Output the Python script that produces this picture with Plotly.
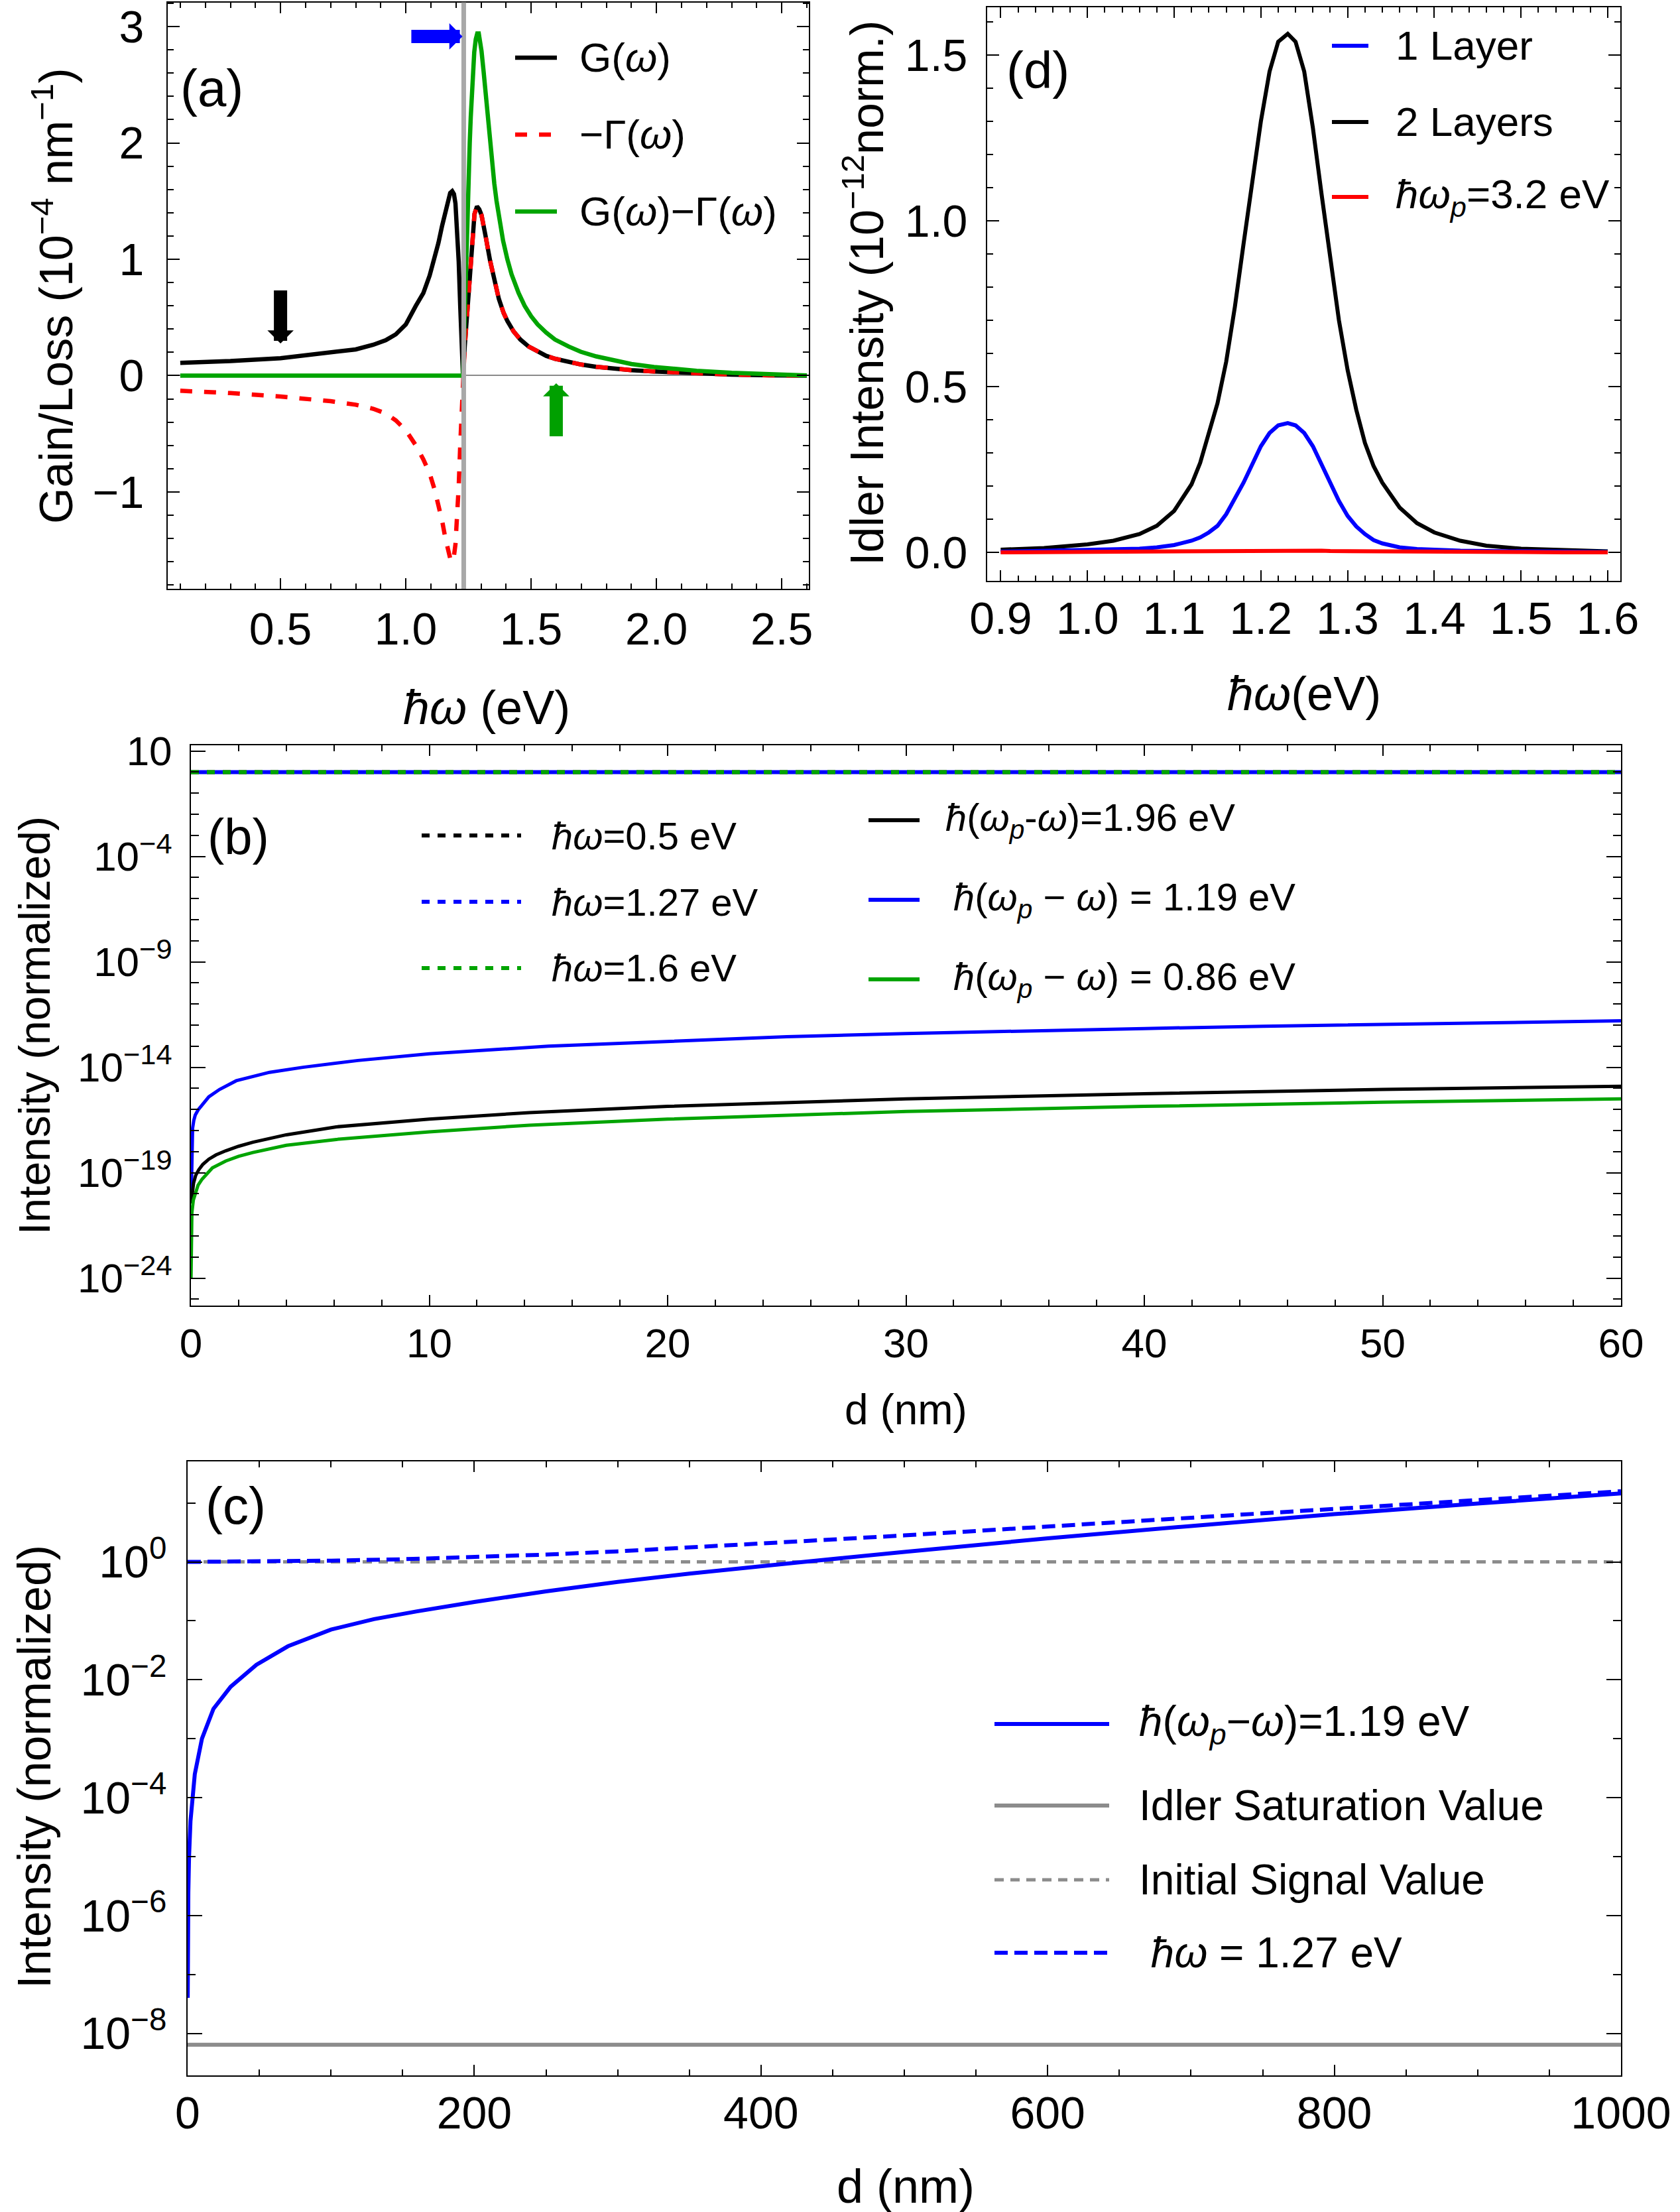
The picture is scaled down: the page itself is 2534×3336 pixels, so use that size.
import plotly.graph_objects as go

W, H = 2534, 3336
FONT = "Liberation Sans, Arial, sans-serif"

# ---------------- panel (a): gain / loss ----------------
a_G_x = [0.10, 0.30, 0.50, 0.70, 0.80, 0.87, 0.92, 0.96, 1.00, 1.04, 1.07, 1.095, 1.115, 1.13,
         1.145, 1.158, 1.168, 1.177, 1.185, 1.192, 1.198, 1.204, 1.211, 1.217, 1.222, 1.228,
         1.235, 1.243, 1.25, 1.257, 1.263, 1.268, 1.274, 1.284, 1.293, 1.302, 1.311, 1.319,
         1.336, 1.353, 1.371, 1.39, 1.405, 1.43, 1.457, 1.49, 1.526, 1.56, 1.595, 1.65, 1.70,
         1.76, 1.82, 1.90, 1.99, 2.08, 2.16, 2.30, 2.45, 2.60]
a_G_y = [0.110, 0.125, 0.150, 0.195, 0.225, 0.265, 0.305, 0.355, 0.44, 0.60, 0.71, 0.86, 1.01, 1.14,
         1.29, 1.42, 1.52, 1.57, 1.585, 1.56, 1.48, 1.30, 0.98, 0.60, 0.30, 0.0,
         0.25, 0.48, 0.68, 0.92, 1.14, 1.28, 1.39, 1.454, 1.43, 1.38, 1.29, 1.19,
         0.99, 0.81, 0.66, 0.54, 0.47, 0.38, 0.31, 0.25, 0.205, 0.17, 0.145, 0.115, 0.095,
         0.076, 0.062, 0.047, 0.036, 0.026, 0.018, 0.009, 0.003, 0.0]
a_mGamma_x = a_G_x
a_mGamma_y = [-0.130, -0.150, -0.180, -0.220, -0.250, -0.285, -0.325, -0.385, -0.47, -0.60, -0.72, -0.84, -0.98, -1.10,
              -1.25, -1.40, -1.50, -1.57, -1.60, -1.55, -1.45, -1.25, -0.95, -0.60, -0.30, 0.0,
              0.25, 0.48, 0.68, 0.92, 1.14, 1.28, 1.39, 1.454, 1.43, 1.38, 1.29, 1.19,
              0.99, 0.81, 0.66, 0.54, 0.47, 0.38, 0.31, 0.25, 0.205, 0.17, 0.145, 0.115, 0.095,
              0.076, 0.062, 0.047, 0.036, 0.026, 0.018, 0.009, 0.003, 0.0]
a_diff_x = [0.10, 1.228, 1.232, 1.236, 1.241, 1.246, 1.25, 1.255, 1.259, 1.264, 1.268, 1.273,
            1.279, 1.285, 1.291, 1.297, 1.302, 1.31, 1.319, 1.328, 1.336, 1.345, 1.353, 1.362,
            1.371, 1.388, 1.405, 1.422, 1.45, 1.474, 1.50, 1.526, 1.56, 1.595, 1.65, 1.698,
            1.76, 1.819, 1.90, 1.99, 2.08, 2.16, 2.30, 2.45, 2.60]
a_diff_y = [0.0, 0.0, 0.3, 0.65, 1.05, 1.45, 1.70, 2.0, 2.22, 2.45, 2.62, 2.78,
            2.89, 2.94, 2.94, 2.88, 2.79, 2.62, 2.40, 2.19, 2.00, 1.81, 1.65, 1.50,
            1.37, 1.16, 1.00, 0.87, 0.71, 0.60, 0.51, 0.44, 0.37, 0.31, 0.25, 0.205,
            0.165, 0.135, 0.10, 0.074, 0.055, 0.042, 0.024, 0.011, 0.002]
a_marker_x = 1.231
a_xticks = [0.5, 1.0, 1.5, 2.0, 2.5]
a_xticklabels = ["0.5", "1.0", "1.5", "2.0", "2.5"]
a_yticks = [-1, 0, 1, 2, 3]
a_yticklabels = ["\u22121", "0", "1", "2", "3"]
# arrows: (tail x, tail y, head x, head y)
a_arrow_black = (0.50, 0.74, 0.50, 0.276)
a_arrow_blue = (1.018, 2.915, 1.226, 2.915)
a_arrow_green = (1.60, -0.53, 1.60, -0.065)

# ---------------- panel (d): idler spectra ----------------
d_x = [0.90, 0.95, 1.00, 1.03, 1.06, 1.08, 1.10, 1.12, 1.13, 1.14, 1.15, 1.16, 1.17, 1.18,
       1.19, 1.20, 1.21, 1.22, 1.231, 1.24, 1.25, 1.26, 1.27, 1.28, 1.29, 1.30, 1.31, 1.32,
       1.33, 1.34, 1.36, 1.38, 1.40, 1.43, 1.46, 1.50, 1.55, 1.60]
d_2layers = [0.008, 0.013, 0.024, 0.035, 0.055, 0.080, 0.125, 0.205, 0.27, 0.36, 0.45, 0.575, 0.74, 0.93,
             1.12, 1.30, 1.45, 1.54, 1.564, 1.54, 1.45, 1.28, 1.08, 0.89, 0.70, 0.55, 0.43, 0.33,
             0.26, 0.21, 0.135, 0.088, 0.060, 0.035, 0.020, 0.011, 0.006, 0.003]
d_1layer = [0.002, 0.004, 0.006, 0.008, 0.011, 0.015, 0.022, 0.035, 0.045, 0.060, 0.080, 0.115, 0.16, 0.21,
            0.265, 0.32, 0.36, 0.383, 0.39, 0.383, 0.36, 0.32, 0.265, 0.21, 0.155, 0.11, 0.078, 0.055,
            0.037, 0.027, 0.015, 0.010, 0.007, 0.005, 0.004, 0.003, 0.002, 0.001]
d_pump = [0.0, 0.001, 0.001, 0.002, 0.002, 0.002, 0.003, 0.003, 0.003, 0.003, 0.004, 0.004, 0.004, 0.004,
          0.005, 0.005, 0.005, 0.005, 0.005, 0.005, 0.005, 0.005, 0.005, 0.004, 0.004, 0.004, 0.004, 0.004,
          0.003, 0.003, 0.003, 0.002, 0.002, 0.002, 0.001, 0.001, 0.0, 0.0]
d_xticks = [0.9, 1.0, 1.1, 1.2, 1.3, 1.4, 1.5, 1.6]
d_xticklabels = ["0.9", "1.0", "1.1", "1.2", "1.3", "1.4", "1.5", "1.6"]
d_yticks = [0.0, 0.5, 1.0, 1.5]
d_yticklabels = ["0.0", "0.5", "1.0", "1.5"]

# ---------------- panel (b): intensity vs d (0-60 nm) ----------------
b_d_blue = [0.01, 0.04, 0.07, 0.12, 0.18, 0.3, 0.47, 0.75, 1.2, 1.9, 3.3, 4.7, 7, 10, 15, 20, 25,
            30, 35, 40, 45, 50, 55, 60]
b_idler_119 = [5e-21, 2.0e-18, 1.3e-17, 3.0e-17, 5.4e-17, 9.5e-17, 1.6e-16, 4.0e-16, 8.9e-16,
               2.3e-15, 5.8e-15, 1.0e-14, 2.1e-14, 4.4e-14, 1.0e-13, 1.7e-13, 2.8e-13, 4.0e-13,
               5.4e-13, 6.9e-13, 8.9e-13, 1.1e-12, 1.3e-12, 1.6e-12]
b_d_black = [0.01, 0.05, 0.11, 0.2, 0.33, 0.5, 0.75, 1.05, 1.46, 2.0, 2.6, 4.0, 6.1, 10, 14.2, 20,
             30, 40, 50, 60]
b_idler_196 = [3.5e-21, 1.1e-20, 3.2e-20, 7.5e-20, 1.4e-19, 2.5e-19, 4.4e-19, 7.0e-19, 1.1e-18,
               1.8e-18, 2.8e-18, 6.3e-18, 1.5e-17, 3.5e-17, 7.1e-17, 1.4e-16, 3.2e-16, 5.6e-16,
               8.9e-16, 1.26e-15]
b_d_green = [0.003, 0.01, 0.04, 0.1, 0.18, 0.3, 0.47, 0.9, 1.46, 2.0, 2.6, 4.0, 6.1, 10, 14.2, 20,
             30, 40, 50, 60]
b_idler_086 = [1e-24, 5e-23, 1.3e-21, 5.0e-21, 1.1e-20, 2.6e-20, 5.0e-20, 1.7e-19, 3.6e-19,
               6.0e-19, 9.1e-19, 2.0e-18, 3.8e-18, 8.7e-18, 1.8e-17, 3.5e-17, 8.0e-17, 1.4e-16,
               2.2e-16, 3.2e-16]
b_d_signal = [0, 60]
b_signal_05 = [1.0, 1.0]
b_signal_127 = [1.0, 1.0]
b_signal_16 = [1.0, 1.0]
b_xticks = [0, 10, 20, 30, 40, 50, 60]
b_yticks = [1e1, 1e-4, 1e-9, 1e-14, 1e-19, 1e-24]
b_yticklabels = ["10", "10<sup>\u22124</sup>", "10<sup>\u22129</sup>", "10<sup>\u221214</sup>",
                 "10<sup>\u221219</sup>", "10<sup>\u221224</sup>"]
b_yminor = [10.0 ** k for k in range(-25, 2)]

# ---------------- panel (c): intensity vs d (0-1000 nm) ----------------
c_d_idler = [0.07, 0.1, 0.2, 0.5, 1, 2, 5, 10, 18, 30, 48, 70, 100, 130, 160, 200, 250,
             300, 350, 400, 430, 500, 600, 700, 800, 900, 1000]
c_idler = [4.0e-8, 1.0e-7, 4.0e-7, 2.5e-6, 1.0e-5, 4.0e-5, 2.5e-4, 1.0e-3, 3.2e-3, 7.6e-3,
           1.8e-2, 3.7e-2, 7.1e-2, 0.107, 0.145, 0.209, 0.316, 0.457, 0.631, 0.851, 1.0, 1.48,
           2.51, 4.07, 6.46, 9.77, 14.5]
c_d_signal = [0, 50, 100, 150, 200, 250, 300, 350, 400, 450, 500, 600, 700, 800, 900, 1000]
c_signal = [1.0, 1.01, 1.05, 1.11, 1.20, 1.33, 1.51, 1.74, 2.04, 2.40, 2.82, 3.98, 5.6,
            7.9, 11.2, 15.8]
c_d_const = [0, 1000]
c_idler_sat = [6.4e-9, 6.4e-9]
c_signal_init = [1.0, 1.0]
c_xticks = [0, 200, 400, 600, 800, 1000]
c_yticks = [1e0, 1e-2, 1e-4, 1e-6, 1e-8]
c_yticklabels = ["10<sup>0</sup>", "10<sup>\u22122</sup>", "10<sup>\u22124</sup>",
                 "10<sup>\u22126</sup>", "10<sup>\u22128</sup>"]
c_yminor = [10.0 ** k for k in range(-9, 2)]

BLACK = "#000000"
RED = "#FF0000"
GREEN = "#00A400"
BLUE = "#0000FF"
GRAY = "#8C8C8C"


def px(x):
    return x / W


def py(y):
    return 1 - y / H


fig = go.Figure()


def line(x, y, xa, ya, color, width, dash="solid"):
    fig.add_trace(go.Scatter(x=x, y=y, mode="lines", line=dict(color=color, width=width, dash=dash),
                             xaxis=xa, yaxis=ya, showlegend=False, hoverinfo="skip"))


# panel (a)
line(a_G_x, a_G_y, "x", "y", BLACK, 6.5)
line(a_mGamma_x, a_mGamma_y, "x", "y", RED, 6.5, "18px,18px")
line(a_diff_x, a_diff_y, "x", "y", GREEN, 6.5)

# panel (d)
line(d_x, d_2layers, "x2", "y2", BLACK, 6)
line(d_x, d_1layer, "x2", "y2", BLUE, 6)
line(d_x, d_pump, "x2", "y2", RED, 6)

# panel (b)
line(b_d_signal, b_signal_05, "x3", "y3", BLACK, 6, "12px,12px")
line(b_d_signal, b_signal_16, "x3", "y3", GREEN, 6, "12px,12px")
line(b_d_signal, b_signal_127, "x3", "y3", BLUE, 6, "0px,12px,12px,0px")
line(b_d_blue, b_idler_119, "x3", "y3", BLUE, 5)
line(b_d_black, b_idler_196, "x3", "y3", BLACK, 5)
line(b_d_green, b_idler_086, "x3", "y3", GREEN, 5)

# panel (c)
line(c_d_const, c_idler_sat, "x4", "y4", GRAY, 6)
line(c_d_const, c_signal_init, "x4", "y4", GRAY, 5, "14px,10px")
line(c_d_idler, c_idler, "x4", "y4", BLUE, 6)
line(c_d_signal, c_signal, "x4", "y4", BLUE, 6, "20px,10px")


def axis(domain, rng, tickvals, ticktext, fsize, standoff, ticklen, minor, anchor, typ="linear",
         zeroline=False):
    d = dict(domain=domain, range=rng, type=typ, tickmode="array", tickvals=tickvals,
             ticktext=ticktext, ticks="inside", ticklen=ticklen, tickwidth=2, tickcolor=BLACK,
             showline=True, linecolor=BLACK, linewidth=2, mirror="ticks", showgrid=False,
             zeroline=zeroline, tickfont=dict(family=FONT, size=fsize, color=BLACK),
             ticklabelstandoff=standoff, anchor=anchor, minor=minor, automargin=False,
             fixedrange=True)
    if zeroline:
        d.update(zerolinecolor="#8A8A8A", zerolinewidth=2)
    return d


layout = dict(width=W, height=H, autosize=False, margin=dict(l=0, r=0, t=0, b=0, pad=0),
              paper_bgcolor="white", plot_bgcolor="white", showlegend=False,
              font=dict(family=FONT, color=BLACK))

layout["xaxis"] = axis([px(253), px(1220)], [0.05, 2.608], a_xticks, a_xticklabels, 68, 0, 16,
                       dict(dtick=0.1, tick0=0, ticks="inside", ticklen=8, tickwidth=2, tickcolor=BLACK), "y")
layout["yaxis"] = axis([py(888), py(3.5)], [-1.832, 3.208], a_yticks, a_yticklabels, 68, 20, 18,
                       dict(dtick=0.2, tick0=0, ticks="inside", ticklen=9, tickwidth=2, tickcolor=BLACK), "x",
                       zeroline=True)
layout["xaxis2"] = axis([px(1489), px(2444)], [0.8844, 1.6145], d_xticks, d_xticklabels, 68, -4, 16,
                        dict(dtick=0.02, tick0=0, ticks="inside", ticklen=8, tickwidth=2, tickcolor=BLACK), "y2")
layout["yaxis2"] = axis([py(876), py(10.5)], [-0.086, 1.645], d_yticks, d_yticklabels, 68, 14, 18,
                        dict(dtick=0.1, tick0=0, ticks="inside", ticklen=9, tickwidth=2, tickcolor=BLACK), "x2")
layout["xaxis3"] = axis([px(288), px(2445)], [0, 60], b_xticks, [str(v) for v in b_xticks], 62, 2, 16,
                        dict(dtick=2, tick0=0, ticks="inside", ticklen=9, tickwidth=2, tickcolor=BLACK), "y3")
layout["yaxis3"] = axis([py(1969), py(1123.5)], [-25.30, 1.286], b_yticks, b_yticklabels, 62, 14, 22,
                        dict(tickmode="array", tickvals=b_yminor, ticks="inside", ticklen=12, tickwidth=2,
                             tickcolor=BLACK), "x3", typ="log")
layout["xaxis4"] = axis([px(283), px(2445)], [0, 1000], c_xticks, [str(v) for v in c_xticks], 68, -3, 16,
                        dict(dtick=50, tick0=0, ticks="inside", ticklen=9, tickwidth=2, tickcolor=BLACK), "y4")
layout["yaxis4"] = axis([py(3129.6), py(2203.6)], [-8.71, 1.71], c_yticks, c_yticklabels, 68, 16, 22,
                        dict(tickmode="array", tickvals=c_yminor, ticks="inside", ticklen=12, tickwidth=2,
                             tickcolor=BLACK), "x4", typ="log")

annotations = []
shapes = []


def text(x, y, s, size, angle=0, xanchor="center"):
    annotations.append(dict(x=px(x), y=py(y), xref="paper", yref="paper", text=s, showarrow=False,
                            font=dict(family=FONT, size=size, color=BLACK), textangle=angle,
                            xanchor=xanchor, yanchor="middle"))


def key(x0, x1, y, color, width, dash, tx, s, size):
    shapes.append(dict(type="line", xref="paper", yref="paper", x0=px(x0), x1=px(x1), y0=py(y), y1=py(y),
                       line=dict(color=color, width=width, dash=dash)))
    text(tx, y, s, size, xanchor="left")


HW = "<i>\u0127\u03c9</i>"

# axis titles
text(734, 1067, HW + " (eV)", 72)
text(80, 446, "Gain/Loss (10<sup>\u22124</sup> nm<sup>\u22121</sup>)", 70, angle=-90)
text(1967, 1046, HW + "(eV)", 72)
text(1303, 442, "Idler Intensity (10<sup>\u221212</sup>norm.)", 70, angle=-90)
text(1366, 2126, "d (nm)", 64)
text(52, 1547, "Intensity (normalized)", 66, angle=-90)
text(1366, 3297, "d (nm)", 72)
text(52, 2665, "Intensity (normalized)", 70, angle=-90)

# panel labels
text(319, 133, "(a)", 78)
text(1566, 106, "(d)", 78)
text(359, 1261, "(b)", 76)
text(355, 2271, "(c)", 78)

# legends
key(777, 840, 87, BLACK, 6.5, "solid", 872, "G(<i>\u03c9</i>)", 62)
key(777, 840, 203, RED, 6.5, "18px,18px", 872, "\u2212\u0393(<i>\u03c9</i>)", 62)
key(777, 840, 319, GREEN, 6.5, "solid", 872, "G(<i>\u03c9</i>)\u2212\u0393(<i>\u03c9</i>)", 62)

key(2009, 2064, 69, BLUE, 6, "solid", 2103, "1 Layer", 62)
key(2009, 2064, 184, BLACK, 6, "solid", 2103, "2 Layers", 62)
key(2009, 2064, 297, RED, 6, "solid", 2103, "<i>\u0127\u03c9<sub>p</sub></i>=3.2 eV", 62)

key(636, 786, 1260, BLACK, 6, "12px,12px", 830, HW + "=0.5 eV", 58)
key(636, 786, 1360, BLUE, 6, "12px,12px", 830, HW + "=1.27 eV", 58)
key(636, 786, 1460, GREEN, 6, "12px,12px", 830, HW + "=1.6 eV", 58)
key(1310, 1387, 1237, BLACK, 6, "solid", 1424,
    "<i>\u0127</i>(<i>\u03c9<sub>p</sub></i>-<i>\u03c9</i>)=1.96 eV", 58)
key(1310, 1387, 1357, BLUE, 6, "solid", 1436,
    "<i>\u0127</i>(<i>\u03c9<sub>p</sub></i> \u2212 <i>\u03c9</i>) = 1.19 eV", 58)
key(1310, 1387, 1477, GREEN, 6, "solid", 1436,
    "<i>\u0127</i>(<i>\u03c9<sub>p</sub></i> \u2212 <i>\u03c9</i>) = 0.86 eV", 58)

key(1500, 1673, 2600, BLUE, 6, "solid", 1716,
    "<i>\u0127</i>(<i>\u03c9<sub>p</sub></i>\u2212<i>\u03c9</i>)=1.19 eV", 64)
key(1500, 1673, 2723, GRAY, 6, "solid", 1716, "Idler Saturation Value", 64)
key(1500, 1673, 2835, GRAY, 5, "14px,10px", 1716, "Initial Signal Value", 64)
key(1500, 1673, 2945, BLUE, 6, "20px,10px", 1716, " " + HW + " = 1.27 eV", 64)

# vertical marker line in (a)
shapes.append(dict(type="line", xref="x", yref="y domain", x0=a_marker_x, x1=a_marker_x, y0=0, y1=1,
                   line=dict(color="#A8A8A8", width=7), layer="above"))

# arrows in (a)
for (tx, ty, hx, hy), col in [(a_arrow_black, BLACK), (a_arrow_blue, BLUE), (a_arrow_green, "#00A000")]:
    annotations.append(dict(x=hx, y=hy, ax=tx, ay=ty, xref="x", yref="y", axref="x", ayref="y",
                            text="", showarrow=True, arrowhead=1, arrowsize=0.33, arrowwidth=20,
                            arrowcolor=col, standoff=0))

layout["annotations"] = annotations
layout["shapes"] = shapes
fig.update_layout(**layout)

fig.write_html("out.html", config={"displayModeBar": False},
               post_script="document.body.style.margin='0';document.body.style.padding='0';")
